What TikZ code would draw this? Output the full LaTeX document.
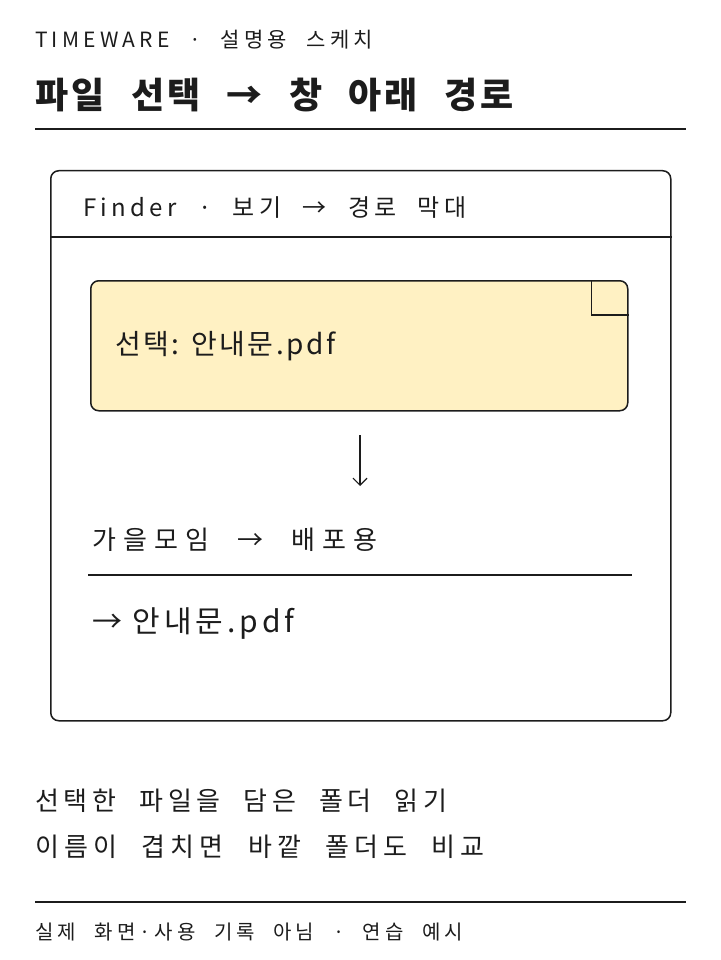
\documentclass[tikz,border=0pt]{standalone}
\usepackage{fontspec}
\setmainfont{Noto Sans CJK KR}
\newfontfamily\hand{Noto Sans CJK KR}[LetterSpace=20, WordSpace=2.2]
\newfontfamily\handtitle{Noto Sans CJK KR}[LetterSpace=10, WordSpace=2.2]
\newfontfamily\plain{Noto Sans CJK KR}[LetterSpace=9]
\usetikzlibrary{positioning,arrows.meta}
\definecolor{ink}{HTML}{1C1C1C}
\definecolor{notefill}{HTML}{FFF1C3}

\begin{document}
\begin{tikzpicture}[x=1pt, y=-1pt,
    txt/.style={anchor=west, inner sep=0pt, text=ink},
    rule/.style={draw=ink, line width=1.3pt}]
    \useasboundingbox (0,0) rectangle (720,960);

    % Heading
    \node[txt, font=\hand\fontsize{21}{24}\selectfont] (tag) at (35,40) {TIMEWARE · 설명용 스케치};
    \node[txt, font=\handtitle\fontsize{36}{40}\selectfont\bfseries] (title) at (35,95) {파일 선택 → 창 아래 경로};
    \coordinate (r1a) at (35,129);
    \coordinate (r1b) at (686,129);
    \draw[rule] (r1a) -- (r1b);

    % Window
    \node[draw=ink, line width=1.5pt, rounded corners=8pt, minimum width=620pt, minimum height=550pt, anchor=north west] (win) at (50,170) {};
    \coordinate (hd) at (50,237);
    \draw[line width=1.4pt, draw=ink] (hd) -- (hd -| win.east);
    \node[txt, font=\hand\fontsize{24}{28}\selectfont\addfontfeature{LetterSpace=18}] (bar) at (83,208) {Finder · 보기 → 경로 막대};

    % Note
    \node[draw=ink, fill=notefill, line width=1.5pt, rounded corners=8pt, minimum width=537pt, minimum height=130pt, anchor=north west] (note) at (90,280) {};
    \draw[line width=1.3pt, draw=ink] (note.north east) ++(-37,0) |- ++(37,35);
    \node[txt, font=\plain\fontsize{28}{32}\selectfont] (sel) at (115,346) {선택: 안내문.pdf};

    % Arrow
    \coordinate (a1) at (360,435);
    \coordinate (a2) at (360,486);
    \draw[ink, line width=1.2pt, -{Straight Barb[length=7pt, width=14pt]}] (a1) -- (a2);

    % Path
    \node[txt, font=\hand\fontsize{26}{30}\selectfont\addfontfeature{LetterSpace=27}] (path) at (92,540) {가을모임 → 배포용};
    \coordinate (r2a) at (88,575);
    \coordinate (r2b) at (632,575);
    \draw[rule] (r2a) -- (r2b);
    \node[txt, font=\plain\fontsize{30}{34}\selectfont\addfontfeature{LetterSpace=13}] (file) at (92,624) {→ 안내문.pdf};

    % Notes below
    \node[txt, font=\hand\fontsize{26}{30}\selectfont\addfontfeature{LetterSpace=18}] (n1) at (35,801) {선택한 파일을 담은 폴더 읽기};
    \node[txt, font=\hand\fontsize{26}{30}\selectfont] (n2) at (35,847) {이름이 겹치면 바깥 폴더도 비교};
    \coordinate (r3a) at (35,902);
    \coordinate (r3b) at (686,902);
    \draw[rule] (r3a) -- (r3b);
    \node[txt, font=\hand\fontsize{20}{24}\selectfont] (foot) at (35,932) {실제 화면·사용 기록 아님 · 연습 예시};
\end{tikzpicture}
\end{document}
